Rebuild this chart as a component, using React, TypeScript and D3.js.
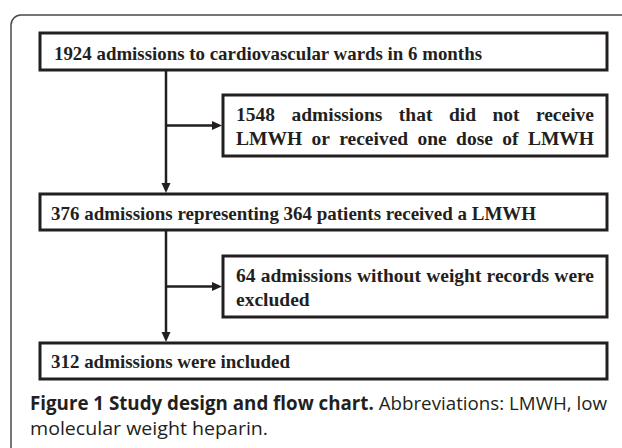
import React from "react";
import * as d3 from "d3";

// text of each box, one entry per line
const box1Lines = ["1924 admissions to cardiovascular wards in 6 months"];
const box2Lines = ["1548 admissions that did not receive", "LMWH or received one dose of LMWH"];
const box3Lines = ["376 admissions representing 364 patients received a LMWH"];
const box4Lines = ["64 admissions without weight records were", "excluded"];
const box5Lines = ["312 admissions were included"];

const captionBold = "Figure 1 Study design and flow chart.";
const captionRest = " Abbreviations: LMWH, low";
const captionLine2 = "molecular weight heparin.";

const W = 622;
const H = 448;
const INK = "#231f20";

const App: React.FC = () => {
  const ref = React.useRef<SVGSVGElement>(null);

  React.useEffect(() => {
    const svg = d3.select(ref.current);
    svg.selectAll("*").remove();

    // outer frame, rounded top-left corner
    svg
      .append("path")
      .attr("d", "M11,448 V25 A10,10 0 0 1 21,15 H622")
      .attr("fill", "none")
      .attr("stroke", "#4a4a4a")
      .attr("stroke-width", 1.5);

    const main = { x0: 40, x1: 607 };
    const side = { x0: 223, x1: 607 };
    const stem = 166;

    const boxes = [
      { ...main, y0: 33, y1: 70, lines: box1Lines, base: [60], tx: 54, fit: [428], justify: false },
      { ...side, y0: 95, y1: 156, lines: box2Lines, base: [121, 145], tx: 236, fit: [358, 358], justify: true },
      { ...main, y0: 194, y1: 230, lines: box3Lines, base: [220], tx: 51, fit: [485], justify: false },
      { ...side, y0: 256, y1: 317, lines: box4Lines, base: [282, 306], tx: 236, fit: [358, 0], justify: true },
      { ...main, y0: 343, y1: 379, lines: box5Lines, base: [368], tx: 51, fit: [239], justify: false },
    ];

    const font = "'Liberation Serif', 'Times New Roman', serif";
    const fs = 19.5;

    boxes.forEach((b) => {
      svg
        .append("rect")
        .attr("x", b.x0)
        .attr("y", b.y0)
        .attr("width", b.x1 - b.x0)
        .attr("height", b.y1 - b.y0)
        .attr("fill", "#fff")
        .attr("stroke", INK)
        .attr("stroke-width", 3);

      b.lines.forEach((line, i) => {
        const y = b.base[i];
        const target = b.fit[i];
        if (b.justify && target > 0) {
          // lay words out one by one so the line fills the width
          const words = line.split(" ");
          const nodes = words.map((w) =>
            svg
              .append("text")
              .attr("y", y)
              .attr("font-family", font)
              .attr("font-weight", "bold")
              .attr("font-size", fs)
              .attr("fill", INK)
              .text(w)
          );
          const widths = nodes.map((n) => (n.node() as SVGTextElement).getComputedTextLength());
          const sum = d3.sum(widths);
          const gap = (target - sum) / (words.length - 1);
          let x = b.tx;
          nodes.forEach((n, k) => {
            n.attr("x", x);
            x += widths[k] + gap;
          });
        } else {
          const t = svg
            .append("text")
            .attr("x", b.tx)
            .attr("y", y)
            .attr("font-family", font)
            .attr("font-weight", "bold")
            .attr("font-size", fs)
            .attr("fill", INK)
            .text(line);
          if (target > 0) t.attr("textLength", target).attr("lengthAdjust", "spacingAndGlyphs");
        }
      });
    });

    // connectors
    const conn = svg.append("g").attr("stroke", INK).attr("stroke-width", 2.5).attr("fill", "none");
    const arrow = (x: number, y: number, dir: "down" | "right") => {
      const p =
        dir === "down"
          ? `M${x},${y} L${x - 4.5},${y - 10} L${x + 4.5},${y - 10} Z`
          : `M${x},${y} L${x - 10},${y - 4.5} L${x - 10},${y + 4.5} Z`;
      svg.append("path").attr("d", p).attr("fill", INK);
    };

    [
      [boxes[0], boxes[1], boxes[2]],
      [boxes[2], boxes[3], boxes[4]],
    ].forEach(([top, mid, bot]) => {
      const yMid = (mid.y0 + mid.y1) / 2;
      conn.append("line").attr("x1", stem).attr("x2", stem).attr("y1", top.y1).attr("y2", bot.y0 - 8);
      conn.append("line").attr("x1", stem).attr("x2", mid.x0 - 8).attr("y1", yMid).attr("y2", yMid);
      arrow(stem, bot.y0 - 1, "down");
      arrow(mid.x0 - 1, yMid, "right");
    });

    // caption
    const cap = svg
      .append("text")
      .attr("x", 30)
      .attr("y", 410)
      .attr("font-family", "'Open Sans', sans-serif")
      .attr("font-size", 19)
      .attr("fill", INK)
      .attr("textLength", 577)
      .attr("lengthAdjust", "spacingAndGlyphs");
    cap.append("tspan").attr("font-weight", "bold").text(captionBold);
    cap.append("tspan").text(captionRest);

    svg
      .append("text")
      .attr("x", 30)
      .attr("y", 435)
      .attr("font-family", "'Open Sans', sans-serif")
      .attr("font-size", 19)
      .attr("fill", INK)
      .attr("textLength", 238)
      .attr("lengthAdjust", "spacingAndGlyphs")
      .text(captionLine2);
  }, []);

  return (
    <div style={{ position: "fixed", left: 0, top: 0, background: "#fff" }}>
      <svg ref={ref} width={W} height={H} style={{ display: "block" }} />
    </div>
  );
};

export default App;
